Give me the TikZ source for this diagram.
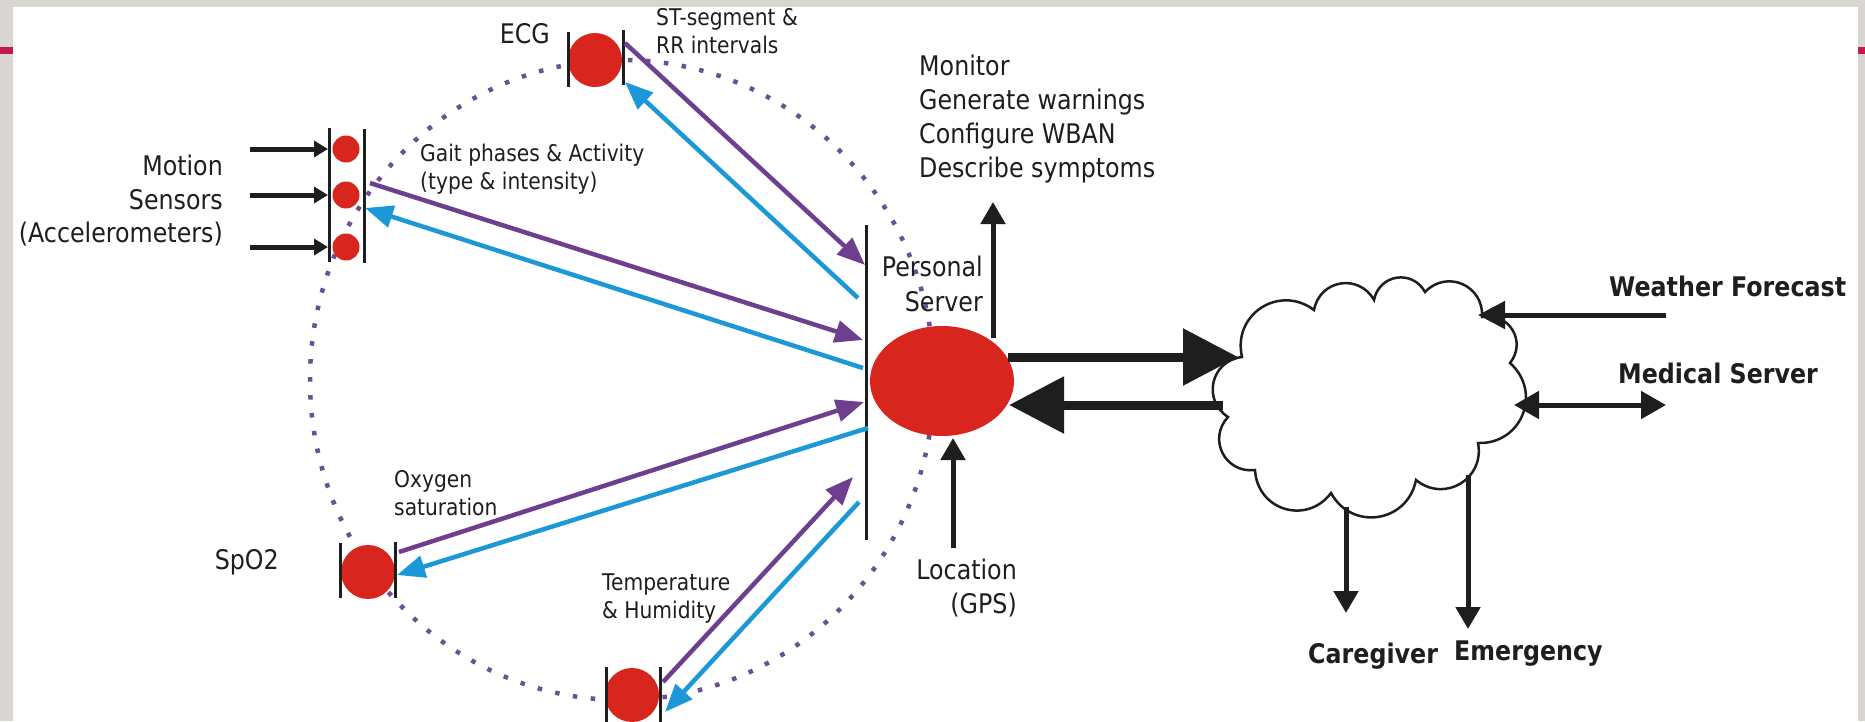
\documentclass[tikz,border=0pt]{standalone}
\usepackage{fontspec}
\setmainfont[FakeStretch=0.88]{DejaVu Sans}
\usetikzlibrary{arrows.meta,shapes.geometric}
\definecolor{bgray}{HTML}{D9D6D1}
\definecolor{barred}{HTML}{C21B4B}
\definecolor{sred}{HTML}{D8251D}
\definecolor{ink}{HTML}{1E1E1E}
\definecolor{lpurple}{HTML}{6E3F8F}
\definecolor{lblue}{HTML}{1B98D8}
\definecolor{dotp}{HTML}{6C4F96}
\tikzset{
  bigtxt/.style={font=\fontsize{27}{34}\selectfont, text=ink, inner sep=0pt},
  smalltxt/.style={font=\fontsize{23}{28}\selectfont, text=ink, inner sep=0pt},
  boldtxt/.style={font=\bfseries\fontsize{27}{34}\selectfont, text=ink, inner sep=0pt},
  sensor/.style={circle, fill=sred, inner sep=0pt, minimum size=54pt},
  msensor/.style={circle, fill=sred, inner sep=0pt, minimum size=27pt},
  sbar/.style={draw=ink, line width=3pt},
  purp/.style={draw=lpurple, line width=4.5pt, -{Triangle[length=28pt,width=22pt]}},
  blu/.style={draw=lblue, line width=4.5pt, -{Triangle[length=28pt,width=22pt]}},
  karrow/.style={draw=ink, line width=5pt, -{Triangle[length=22pt,width=24pt]}},
  sarrow/.style={draw=ink, line width=5pt, -{Triangle[length=14pt,width=16pt]}},
  darrow/.style={draw=ink, line width=5pt, {Triangle[length=25pt,width=27pt]}-{Triangle[length=25pt,width=27pt]}},
  warrow/.style={draw=ink, line width=5pt, -{Triangle[length=27pt,width=27pt]}},
  fatarrow/.style={draw=ink, line width=9pt, -{Triangle[length=55pt,width=55pt]}},
  cloudline/.style={draw=ink, line width=2.5pt, fill=white},
  dotring/.style={draw=dotp, line width=4.5pt, dash pattern=on 4.5pt off 13.5pt}
}
\begin{document}
\begin{tikzpicture}[x=1pt,y=-1pt]
\useasboundingbox (0,0) rectangle (1865,721);
% background
\fill[bgray] (0,0) rectangle (1865,721);
\fill[white] (13,7) rectangle (1858,721);
\fill[barred] (0,47) rectangle (13,54);
\fill[barred] (1858,47) rectangle (1865,54);

% dotted ring
\draw[dotring] (622,380) ellipse [x radius=312pt, y radius=320pt];

% sensors
\node[sensor] (ecg) at (595,60) {};
\node[msensor] (m1) at (346,149) {};
\node[msensor] (m2) at (346,195) {};
\node[msensor] (m3) at (346,247) {};
\node[sensor] (spo) at (368,572) {};
\node[sensor] (temp) at (632,695) {};
\node[ellipse, fill=sred, inner sep=0pt, minimum width=144pt, minimum height=110pt] (ps) at (942,381) {};

% sensor bars
\draw[sbar] (568,32) -- (568,87);
\draw[sbar] (623,30) -- (623,85);
\draw[sbar] (329,128) -- (329,262);
\draw[sbar] (364,129) -- (364,263);
\draw[sbar] (340,543) -- (340,598);
\draw[sbar] (395,542) -- (395,598);
\draw[sbar] (606,667) -- (606,725);
\draw[sbar] (660,667) -- (660,725);
\draw[sbar] (866,225) -- (866,540);

% attachment coordinates
\coordinate (ecgOut) at (625,43);
\coordinate (ecgIn) at (625,82);
\coordinate (psE1) at (865,265);
\coordinate (psE2) at (858,298);
\coordinate (mOut) at (370,183);
\coordinate (mIn) at (365,208);
\coordinate (psM1) at (863,340);
\coordinate (psM2) at (863,368);
\coordinate (sOut) at (399,552);
\coordinate (sIn) at (397,575);
\coordinate (psS1) at (864,402);
\coordinate (psS2) at (868,428);
\coordinate (tOut) at (663,682);
\coordinate (tIn) at (665,712);
\coordinate (psT1) at (853,477);
\coordinate (psT2) at (859,502);

% coloured connectors
\draw[purp] (ecgOut) -- (psE1);
\draw[blu] (psE2) -- (ecgIn);
\draw[purp] (mOut) -- (psM1);
\draw[blu] (psM2) -- (mIn);
\draw[purp] (sOut) -- (psS1);
\draw[blu] (psS2) -- (sIn);
\draw[purp] (tOut) -- (psT1);
\draw[blu] (psT2) -- (tIn);

% motion inputs
\coordinate (in1) at (250,149);
\coordinate (in2) at (250,195);
\coordinate (in3) at (250,247);
\draw[sarrow] (in1) -- (328,149);
\draw[sarrow] (in2) -- (328,195);
\draw[sarrow] (in3) -- (328,247);

% personal server arrows
\coordinate (psTop) at (993,338);
\coordinate (monTip) at (993,202);
\draw[karrow] (psTop) -- (monTip);
\coordinate (gps) at (953,548);
\coordinate (psBot) at (953,438);
\draw[karrow] (gps) -- (psBot);

% cloud
\coordinate (c1) at (1242,357);
\coordinate (c2) at (1314,310);
\coordinate (c3) at (1374,300);
\coordinate (c4) at (1425,292);
\coordinate (c5) at (1482,317);
\coordinate (c6) at (1510,363);
\coordinate (c7) at (1478,443);
\coordinate (c8) at (1416,480);
\coordinate (c9) at (1331,493);
\coordinate (c10) at (1255,470);
\coordinate (c11) at (1228,417);
\draw[cloudline] (c1) to[bend left=70,looseness=1.3] (c2)
  to[bend left=70,looseness=1.3] (c3)
  to[bend left=70,looseness=1.3] (c4)
  to[bend left=70,looseness=1.3] (c5)
  to[bend left=70,looseness=1.3] (c6)
  to[bend left=70,looseness=1.3] (c7)
  to[bend left=70,looseness=1.3] (c8)
  to[bend left=70,looseness=1.3] (c9)
  to[bend left=70,looseness=1.3] (c10)
  to[bend left=70,looseness=1.3] (c11)
  to[bend left=70,looseness=1.3] (c1) -- cycle;

% fat arrows
\coordinate (psR1) at (1008,357);
\coordinate (cloudL1) at (1238,357);
\coordinate (cloudL2) at (1223,405);
\coordinate (psR2) at (1009,405);
\draw[fatarrow] (psR1) -- (cloudL1);
\draw[fatarrow] (cloudL2) -- (psR2);

% cloud arrows
\coordinate (wf) at (1666,315);
\coordinate (cw) at (1478,315);
\draw[warrow] (wf) -- (cw);
\coordinate (cm) at (1514,405);
\coordinate (ms) at (1666,405);
\draw[darrow] (cm) -- (ms);
\coordinate (cg1) at (1346,507);
\coordinate (cg2) at (1346,613);
\draw[karrow] (cg1) -- (cg2);
\coordinate (em1) at (1468,475);
\coordinate (em2) at (1468,629);
\draw[karrow] (em1) -- (em2);

% texts
\node[bigtxt, anchor=base east] (tecg) at (550,43) {ECG};
\node[smalltxt, anchor=base west] (tst1) at (656,25) {ST-segment \&};
\node[smalltxt, anchor=base west] (tst2) at (656,53) {RR intervals};
\node[bigtxt, anchor=base west] (tmo1) at (919,75) {Monitor};
\node[bigtxt, anchor=base west] (tmo2) at (919,109) {Generate warnings};
\node[bigtxt, anchor=base west] (tmo3) at (919,143) {Configure WBAN};
\node[bigtxt, anchor=base west] (tmo4) at (919,177) {Describe symptoms};
\node[bigtxt, anchor=base east] (tms1) at (223,175) {Motion};
\node[bigtxt, anchor=base east] (tms2) at (223,209) {Sensors};
\node[bigtxt, anchor=base east] (tms3) at (223,242) {(Accelerometers)};
\node[smalltxt, anchor=base west] (tg1) at (420,161) {Gait phases \& Activity};
\node[smalltxt, anchor=base west] (tg2) at (420,189) {(type \& intensity)};
\node[bigtxt, anchor=base east] (tps1) at (983,276) {Personal};
\node[bigtxt, anchor=base east] (tps2) at (983,311) {Server};
\node[smalltxt, anchor=base west] (tox1) at (394,487) {Oxygen};
\node[smalltxt, anchor=base west] (tox2) at (394,515) {saturation};
\node[bigtxt, anchor=base east] (tspo) at (279,569) {SpO2};
\node[smalltxt, anchor=base west] (tte1) at (602,590) {Temperature};
\node[smalltxt, anchor=base west] (tte2) at (602,618) {\& Humidity};
\node[bigtxt, anchor=base east] (tlo1) at (1017,579) {Location};
\node[bigtxt, anchor=base east] (tlo2) at (1017,613) {(GPS)};
\node[boldtxt, anchor=base west] (twf) at (1609,296) {Weather Forecast};
\node[boldtxt, anchor=base west] (tmd) at (1618,383) {Medical Server};
\node[boldtxt, anchor=base west] (tcg) at (1308,663) {Caregiver};
\node[boldtxt, anchor=base west] (tem) at (1454,660) {Emergency};
\end{tikzpicture}
\end{document}
